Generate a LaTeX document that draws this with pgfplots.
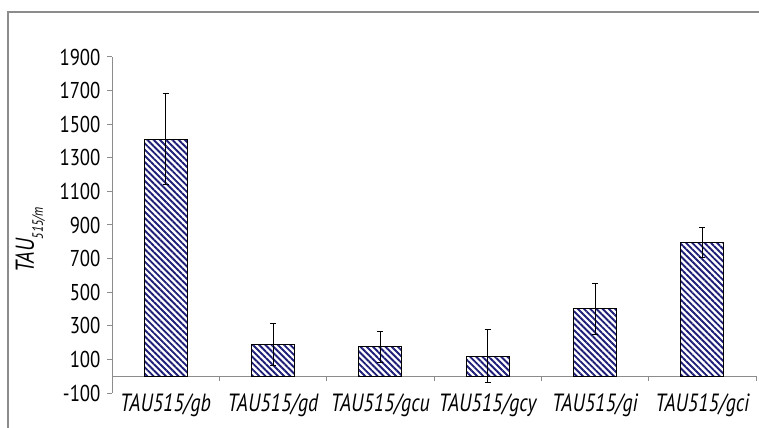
\documentclass[border=0pt]{standalone}
\usepackage{fontspec}
\setmainfont[FakeStretch=0.8]{PT Sans}
\newfontfamily\numfont[FakeStretch=0.82]{PT Sans}
\usepackage{pgfplots}
\pgfplotsset{compat=1.18}
\usetikzlibrary{patterns.meta}
\definecolor{hatch}{RGB}{30,30,120}
\definecolor{axisgray}{RGB}{140,140,140}

\pgfplotstableread{
x  y     err
0  1410  270
1  190   125
2  175   92
3  120   160
4  400   153
5  795   90
}\tauData

\begin{document}
\begin{tikzpicture}
\useasboundingbox (0,0) rectangle (759bp,428bp);
% outer frame (left and top edges)
\draw[axisgray, line width=1.2bp] (8bp,0) -- (8bp,416bp) -- (759bp,416bp);
\begin{axis}[
  at={(112bp,35bp)}, anchor=south west,
  scale only axis, width=644bp, height=336bp,
  xmin=-0.5, xmax=5.5, ymin=-100, ymax=1900,
  axis lines*=left,
  x axis line style={draw=none},
  y axis line style={axisgray, line width=1bp},
  ytick={-100,100,...,1900},
  xtick={0,...,5},
  xticklabels={TAU515/gb,TAU515/gd,TAU515/gcu,TAU515/gcy,TAU515/gi,TAU515/gci},
  x tick style={draw=none},
  y tick style={axisgray, line width=1bp},
  tick align=outside,
  major tick length=5bp,
  /pgf/number format/assume math mode=true,
  /pgf/number format/1000 sep={},
  yticklabel style={font=\numfont\fontsize{23}{26}\selectfont, xshift=-3bp},
  xticklabel style={font=\fontsize{25}{28}\selectfont\itshape, anchor=base, yshift=-13bp},
  ylabel={\itshape TAU\raisebox{-0.35em}{\fontsize{15}{17}\selectfont 515/m}},
  ylabel style={font=\fontsize{26}{29}\selectfont, at={(axis description cs:-0.127,0.455)}, anchor=center},
  clip=false,
]
% baseline at zero with category separators
\draw[axisgray, line width=1bp] (axis cs:-0.5,0) -- (axis cs:5.5,0);
\pgfplotsinvokeforeach{-0.5,0.5,1.5,2.5,3.5,4.5,5.5}{
  \draw[axisgray, line width=1bp] (axis cs:#1,0) -- ([yshift=-5bp]axis cs:#1,0);
}
\addplot[ybar, bar width=0.4, draw=black, line width=1bp,
  pattern={Lines[angle=-45, distance=4.4bp, line width=1.9bp]}, pattern color=hatch,
  error bars/.cd, y dir=both, y explicit,
  error bar style={black, line width=1bp},
  error mark options={rotate=90, mark size=3bp, line width=1bp, black}]
  table[x=x, y=y, y error=err] {\tauData};
\end{axis}
\end{tikzpicture}
\end{document}
